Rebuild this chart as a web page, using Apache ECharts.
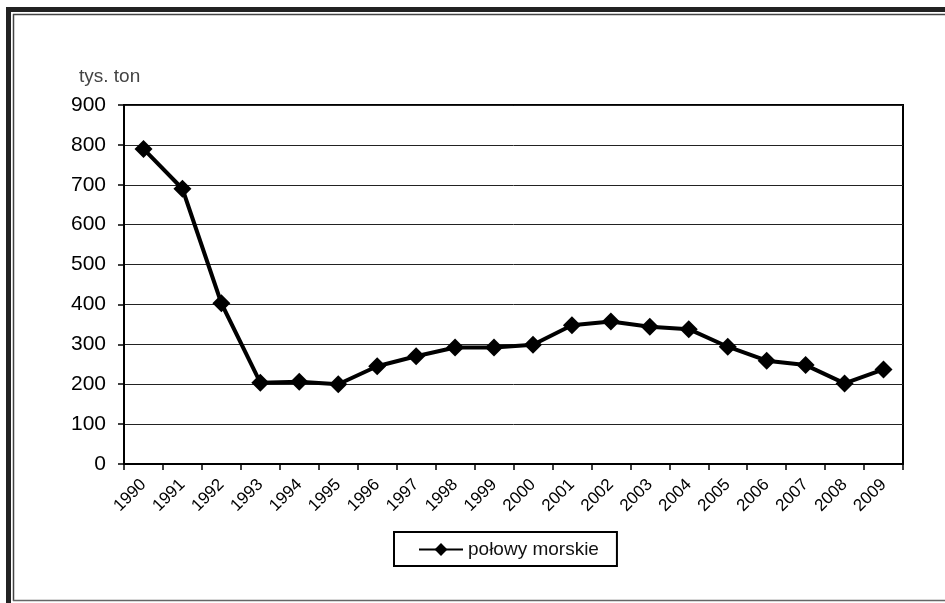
<!DOCTYPE html>
<html>
<head>
<meta charset="utf-8">
<script src="https://cdn.jsdelivr.net/npm/echarts@6/dist/echarts.min.js"></script>
<style>
html,body{margin:0;padding:0;background:#fff;}
#c{width:945px;height:603px;}
</style>
</head>
<body>
<div id="c"></div>
<script>
const years = ['1990','1991','1992','1993','1994','1995','1996','1997','1998','1999','2000','2001','2002','2003','2004','2005','2006','2007','2008','2009'];
const polowyMorskie = [790, 690, 403, 204, 206, 200, 245, 270, 292, 292, 299, 348, 357, 344, 338, 294, 259, 248, 202, 237];
const seriesName = 'połowy morskie';
const yTitle = 'tys. ton';

const FONT = 'Liberation Sans, Arial, sans-serif';
const chart = echarts.init(document.getElementById('c'));
chart.setOption({
  animation: false,
  backgroundColor: '#fff',
  textStyle: { fontFamily: FONT },
  graphic: [
    { type: 'rect', shape: { x: 6, y: 7, width: 945, height: 5 }, style: { fill: '#222' } },
    { type: 'rect', shape: { x: 6, y: 7, width: 5, height: 600 }, style: { fill: '#222' } },
    { type: 'line', shape: { x1: 13, y1: 14.5, x2: 945, y2: 14.5 }, style: { stroke: '#444', lineWidth: 1.5 } },
    { type: 'line', shape: { x1: 13.5, y1: 14, x2: 13.5, y2: 601 }, style: { stroke: '#444', lineWidth: 1.5 } },
    { type: 'line', shape: { x1: 13, y1: 600.5, x2: 945, y2: 600.5 }, style: { stroke: '#666', lineWidth: 1.5 } },
    { type: 'text', left: 79, top: 67, style: { text: yTitle, font: '19px ' + FONT, fill: '#444' } }
  ],
  grid: {
    left: 124, right: 42, top: 105, bottom: 139,
    show: true, borderColor: '#000', borderWidth: 2, backgroundColor: 'transparent'
  },
  legend: {
    left: 394, top: 532,
    itemWidth: 44, itemHeight: 16, itemGap: 5,
    padding: [8, 18, 7, 24],
    borderColor: '#000', borderWidth: 2,
    textStyle: { fontSize: 19, color: '#111', fontFamily: FONT },
    data: [seriesName]
  },
  xAxis: {
    type: 'category',
    data: years,
    boundaryGap: true,
    axisLine: { lineStyle: { color: '#000', width: 2 } },
    axisTick: { show: true, alignWithLabel: false, interval: 0, length: 6, lineStyle: { color: '#000', width: 1.5 } },
    axisLabel: { rotate: 45, interval: 0, fontSize: 17, color: '#000', margin: 18 },
    splitLine: { show: false }
  },
  yAxis: {
    type: 'value',
    min: 0, max: 900, interval: 100,
    axisLine: { show: true, lineStyle: { color: '#000', width: 2 } },
    axisTick: { show: true, length: 6, lineStyle: { color: '#000', width: 1.5 } },
    axisLabel: { fontSize: 21, color: '#000', margin: 18 },
    splitLine: { show: true, lineStyle: { color: '#222', width: 1 } }
  },
  series: [{
    name: seriesName,
    type: 'line',
    data: polowyMorskie,
    symbol: 'diamond',
    symbolSize: 18,
    showAllSymbol: true,
    lineStyle: { color: '#000', width: 4 },
    itemStyle: { color: '#000' }
  }]
});
</script>
</body>
</html>
